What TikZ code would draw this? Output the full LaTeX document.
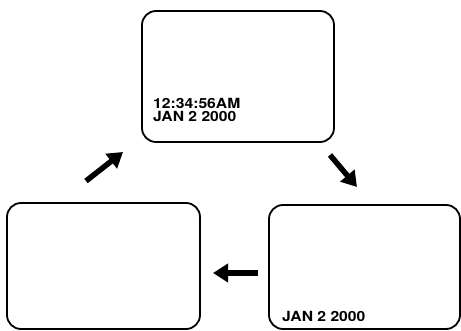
\documentclass[tikz,border=0pt]{standalone}
\usepackage{fontspec}
\setmainfont{TeX Gyre Heros}
\newfontfamily\stampfont{TeX Gyre Heros}[FakeStretch=1.12]
\usetikzlibrary{arrows.meta}

\begin{document}
\begin{tikzpicture}[x=1pt,y=-1pt,
 screen/.style={draw,line width=1.8pt,rounded corners=14pt,inner sep=0pt},
 stamp/.style={anchor=base west,inner sep=0pt,font=\stampfont\fontsize{14}{14}\selectfont\bfseries},
 turn/.style={line width=5.5pt,-{Triangle[length=15pt,width=18pt]}}]
\useasboundingbox (0,0) rectangle (461,331);
\node[screen,minimum width=192pt,minimum height=131pt] (T) at (238,76.5) {};
\node[screen,minimum width=193pt,minimum height=126pt] (L) at (103.5,266) {};
\node[screen,minimum width=191pt,minimum height=124pt] (R) at (364.5,267) {};
\node[stamp] (t1) at (153,109) {12:34:56AM};
\node[stamp] (t2) at (153,122) {JAN 2 2000};
\node[stamp] (r1) at (282,322) {JAN 2 2000};
% arrows between the screens
\coordinate (a0) at (86,181);
\coordinate (a1) at (123,152);
\coordinate (b0) at (330,155);
\coordinate (b1) at (357,187);
\coordinate (c0) at (258,273);
\coordinate (c1) at (213,273);
\draw[turn] (a0)--(a1);
\draw[turn] (b0)--(b1);
\draw[turn] (c0)--(c1);
\end{tikzpicture}
\end{document}
